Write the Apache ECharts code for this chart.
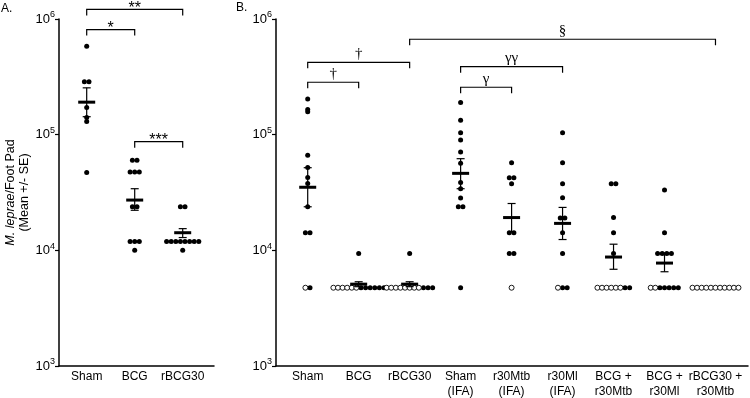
<!DOCTYPE html>
<html>
<head>
<meta charset="utf-8">
<script src="https://cdn.jsdelivr.net/npm/echarts@6/dist/echarts.min.js"></script>
<style>
  html, body { margin: 0; padding: 0; background: #fff; }
  #chart { width: 750px; height: 398px; }
</style>
</head>
<body>
<div id="chart"></div>
<script>
// Panel A
const catsA = ['Sham', 'BCG', 'rBCG30'];
const dotsA = [
    [5.8e5, 2.87e5, 2.87e5, 1.72e5, 1.41e5, 1.30e5, 4.7e4],
    [6.0e4, 6.0e4, 4.75e4, 4.75e4, 4.75e4, 2.38e4, 2.38e4, 1.19e4, 1.19e4, 1.19e4, 1.0e4],
    [2.38e4, 2.38e4, 1.19e4, 1.19e4, 1.19e4, 1.19e4, 1.19e4, 1.19e4, 1.19e4, 1.19e4, 1.0e4]
];
const meanA = [1.91e5, 2.72e4, 1.42e4];
const lowA = [1.43e5, 2.22e4, 1.29e4];
const highA = [2.54e5, 3.41e4, 1.54e4];
const bracketsA = [
    { from: 0, to: 1, level: 8.1e5, text: '*' },
    { from: 0, to: 2, level: 1.21e6, text: '**' },
    { from: 1, to: 2, level: 8.7e4, text: '***' }
];

// Panel B
const catsB = ['Sham', 'BCG', 'rBCG30', 'Sham\n(IFA)', 'r30Mtb\n(IFA)', 'r30Ml\n(IFA)',
    'BCG +\nr30Mtb', 'BCG +\nr30Ml', 'rBCG30 +\nr30Mtb'];
const limitB = 4750;
const dotsB = [
    [2.03e5, 1.65e5, 1.58e5, 6.64e4, 5.2e4, 4.27e4, 3.79e4, 2.38e4, 1.42e4, 1.42e4, 4750],
    [9.4e3, 4750, 4750, 4750, 4750, 4750, 4750],
    [9.4e3, 4750, 4750, 4750],
    [1.9e5, 1.33e5, 1.04e5, 9.0e4, 7.08e4, 5.65e4, 3.85e4, 3.41e4, 2.83e4, 2.38e4, 2.38e4, 4750],
    [5.71e4, 4.25e4, 4.25e4, 3.77e4, 1.42e4, 1.42e4, 9.4e3, 9.4e3],
    [1.04e5, 5.71e4, 3.77e4, 2.85e4, 1.9e4, 1.9e4, 1.42e4, 9.4e3, 4750, 4750],
    [3.77e4, 3.77e4, 1.92e4, 1.42e4, 9.4e3, 4750, 4750],
    [3.32e4, 1.42e4, 9.4e3, 9.4e3, 9.4e3, 9.4e3, 4750, 4750, 4750, 4750, 4750],
    []
];
// open circles, all sitting at the detection limit
const openB = [1, 6, 8, 0, 1, 1, 6, 2, 11];
const meanB = [3.51e4, 5.1e3, 5.1e3, 4.63e4, 1.92e4, 1.71e4, 8.75e3, 7.76e3, null];
const lowB = [2.38e4, 4.85e3, 4.85e3, 3.41e4, 1.44e4, 1.24e4, 6.86e3, 6.53e3, null];
const highB = [5.18e4, 5.35e3, 5.35e3, 6.2e4, 2.54e4, 2.35e4, 1.13e4, 9.5e3, null];
const bracketsB = [
    { from: 0, to: 1, level: 2.84e5, text: '†' },
    { from: 0, to: 2, level: 4.22e5, text: '†' },
    { from: 2, to: 8, level: 6.68e5, text: '§' },
    { from: 3, to: 5, level: 3.87e5, text: 'γγ' },
    { from: 3, to: 4, level: 2.57e5, text: 'γ' }
];

const FONT = '"Liberation Sans", Arial, sans-serif';
const SERIF = '"Liberation Serif", "Times New Roman", serif';
const DOT_GAP = 4.6;

// dots with equal values sit side by side, open ones first
function buildDots(dots, opens, limit) {
    const filled = [];
    const open = [];
    dots.forEach((vals, gi) => {
        const pts = [];
        for (let k = 0; k < (opens ? opens[gi] : 0); k++) pts.push({ v: limit, open: true });
        vals.forEach(v => pts.push({ v: v, open: false }));
        const byVal = {};
        pts.forEach(p => {
            (byVal[p.v] = byVal[p.v] || []).push(p);
        });
        Object.keys(byVal).forEach(key => {
            const row = byVal[key];
            row.forEach((p, k) => {
                const item = { value: [gi, p.v], symbolOffset: [(k - (row.length - 1) / 2) * DOT_GAP, 0] };
                (p.open ? open : filled).push(item);
            });
        });
    });
    return { filled, open };
}

function meanData(mean, low, high) {
    const out = [];
    mean.forEach((m, i) => {
        if (m != null) out.push([i, m, low[i], high[i]]);
    });
    return out;
}

function renderMean(params, api) {
    const x = api.value(0);
    const m = api.coord([x, api.value(1)]);
    const lo = api.coord([x, api.value(2)]);
    const hi = api.coord([x, api.value(3)]);
    const st = { stroke: '#000', lineWidth: 1.2 };
    return {
        type: 'group',
        children: [
            { type: 'line', shape: { x1: m[0], y1: lo[1], x2: m[0], y2: hi[1] }, style: st },
            { type: 'line', shape: { x1: m[0] - 4, y1: lo[1], x2: m[0] + 4, y2: lo[1] }, style: st },
            { type: 'line', shape: { x1: m[0] - 4, y1: hi[1], x2: m[0] + 4, y2: hi[1] }, style: st },
            { type: 'line', shape: { x1: m[0] - 8.5, y1: m[1], x2: m[0] + 8.5, y2: m[1] },
                style: { stroke: '#000', lineWidth: 3 } }
        ]
    };
}

// significance bracket: ends drop 6px, symbol centred above
function bracketSeries(list, idx, font, size, textShift) {
    return {
        type: 'custom',
        xAxisIndex: idx,
        yAxisIndex: idx,
        clip: false,
        silent: true,
        data: list.map(b => [b.from, b.to, b.level]),
        renderItem: (params, api) => {
            const a = api.coord([api.value(0), api.value(2)]);
            const b = api.coord([api.value(1), api.value(2)]);
            const text = list[params.dataIndex].text;
            return {
                type: 'group',
                children: [
                    { type: 'polyline',
                        shape: { points: [[a[0], a[1] + 6], a, b, [b[0], b[1] + 6]] },
                        style: { stroke: '#000', lineWidth: 1.2, fill: null } },
                    { type: 'text',
                        style: { text: text, x: (a[0] + b[0]) / 2, y: a[1] + textShift, align: 'center',
                            verticalAlign: 'bottom', fontSize: size, fontFamily: font, fill: '#000' } }
                ]
            };
        }
    };
}

function yAxisCfg(idx, withName) {
    const cfg = {
        type: 'log',
        logBase: 10,
        gridIndex: idx,
        min: 1000,
        max: 1e6,
        splitLine: { show: false },
        axisLine: { show: true, onZero: false, lineStyle: { color: '#000', width: 1.5 } },
        axisTick: { show: true, length: 4, lineStyle: { color: '#000', width: 1.2 } },
        axisLabel: {
            margin: 4,
            color: '#000',
            formatter: v => '{b|10}{s|' + Math.round(Math.log10(v)) + '}',
            rich: {
                b: { fontSize: 13, fontFamily: FONT, color: '#000' },
                s: { fontSize: 9, fontFamily: FONT, color: '#000', padding: [0, 0, 8, 0] }
            }
        }
    };
    if (withName) {
        cfg.name = '{i|M. leprae}/Foot Pad\n(Mean +/- SE)';
        cfg.nameLocation = 'middle';
        cfg.nameRotate = 90;
        cfg.nameGap = 25;
        cfg.nameTextStyle = {
            color: '#000',
            fontSize: 12.5,
            fontFamily: FONT,
            lineHeight: 14,
            rich: { i: { fontStyle: 'italic', fontSize: 12.5, fontFamily: FONT, color: '#000' } }
        };
    }
    return cfg;
}

function xAxisCfg(idx, cats, min, max) {
    return {
        type: 'value',
        gridIndex: idx,
        min: min,
        max: max,
        splitLine: { show: false },
        axisLine: { show: true, onZero: false, lineStyle: { color: '#000', width: 1.5 } },
        axisTick: { show: false },
        axisLabel: {
            customValues: cats.map((c, i) => i),
            formatter: v => cats[Math.round(v)],
            showMinLabel: true,
            showMaxLabel: true,
            hideOverlap: false,
            margin: 3,
            color: '#000',
            fontSize: 12,
            lineHeight: 15,
            fontFamily: FONT
        }
    };
}

const chart = echarts.init(document.getElementById('chart'), null, { renderer: 'canvas' });
const dA = buildDots(dotsA, null, 0);
const dB = buildDots(dotsB, openB, limitB);

const dotStyle = { color: '#000', opacity: 1 };
const openStyle = { color: '#fff', borderColor: '#000', borderWidth: 0.9, opacity: 1 };

const option = {
    animation: false,
    textStyle: { fontFamily: FONT },
    grid: [
        { left: 59, top: 19, width: 155, bottom: 32, outerBoundsMode: 'none', containLabel: false },
        { left: 276, top: 19, right: 2, bottom: 32, outerBoundsMode: 'none', containLabel: false }
    ],
    xAxis: [xAxisCfg(0, catsA, -0.577, 2.652), xAxisCfg(1, catsB, -0.622, 8.638)],
    yAxis: [yAxisCfg(0, true), yAxisCfg(1, false)],
    graphic: [
        { type: 'text', left: 1, top: 3, style: { text: 'A.', fontSize: 12, fontFamily: FONT, fill: '#000' } },
        { type: 'text', left: 236, top: 2, style: { text: 'B.', fontSize: 12, fontFamily: FONT, fill: '#000' } }
    ],
    series: [
        { type: 'scatter', xAxisIndex: 0, yAxisIndex: 0, symbolSize: 5, itemStyle: dotStyle, data: dA.filled, z: 3 },
        { type: 'scatter', xAxisIndex: 1, yAxisIndex: 1, symbolSize: 5, itemStyle: dotStyle, data: dB.filled, z: 3 },
        { type: 'scatter', xAxisIndex: 1, yAxisIndex: 1, symbolSize: 5, itemStyle: openStyle, data: dB.open, z: 3 },
        { type: 'custom', xAxisIndex: 0, yAxisIndex: 0, renderItem: renderMean, data: meanData(meanA, lowA, highA), z: 4 },
        { type: 'custom', xAxisIndex: 1, yAxisIndex: 1, renderItem: renderMean, data: meanData(meanB, lowB, highB), z: 4 },
        bracketSeries(bracketsA, 0, FONT, 16, 7),
        bracketSeries(bracketsB, 1, SERIF, 15, -1)
    ]
};
chart.setOption(option);
</script>
</body>
</html>
